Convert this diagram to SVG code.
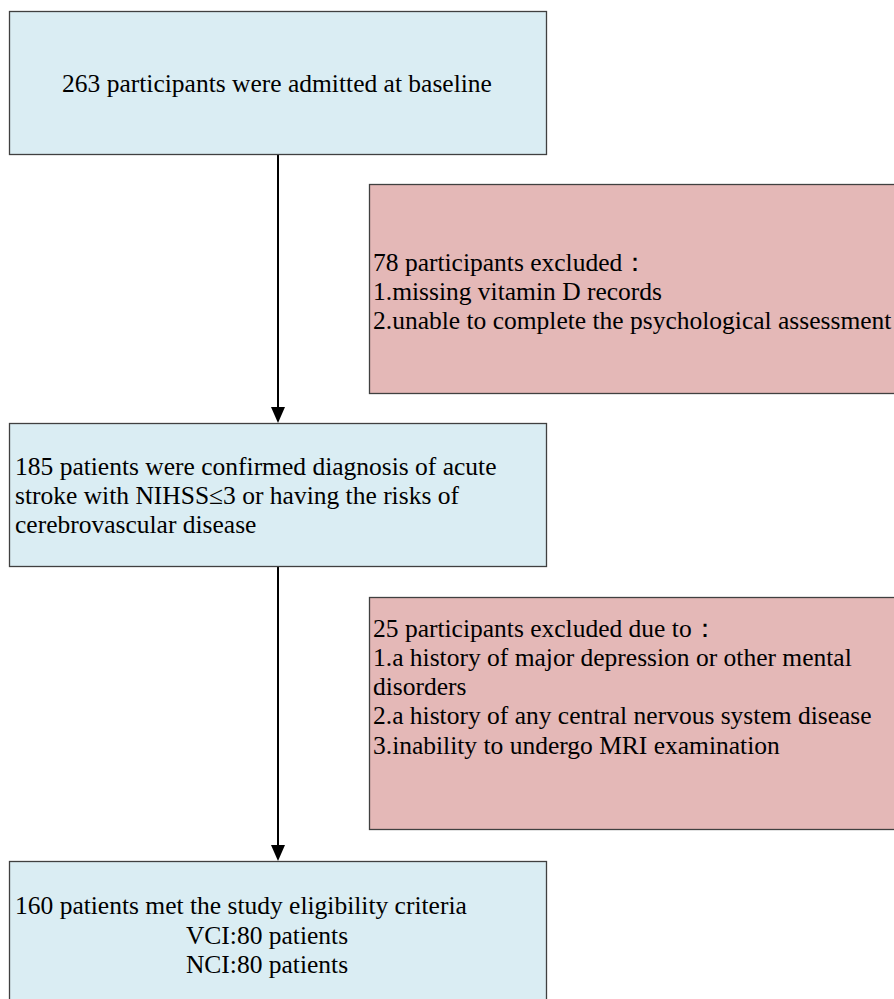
<svg xmlns="http://www.w3.org/2000/svg" width="894" height="999" viewBox="0 0 894 999">
<defs>
<style>
.blue{fill:#daedf3;stroke:#404040;stroke-width:1.3}
.pink{fill:#e4b8b7;stroke:#404040;stroke-width:1.3}
.conn{stroke:#000;stroke-width:2;fill:none}
</style>
</defs>
<rect width="894" height="999" fill="#fff"/>
<g id="connectors">
<line class="conn" x1="278" y1="155" x2="278" y2="407"/>
<path d="M271,407 L285,407 L278,423 Z" fill="#000"/>
<line class="conn" x1="278" y1="567" x2="278" y2="845"/>
<path d="M271,845 L285,845 L278,861 Z" fill="#000"/>
</g>
<g font-family="Liberation Serif, Times New Roman, serif" font-size="25.5" fill="#000">
<g id="n1">
<rect class="blue" x="9.5" y="11.5" width="537" height="143"/>
<text x="277" y="92" text-anchor="middle">263 participants were admitted at baseline</text>
</g>
<g id="n2">
<rect class="pink" x="369.5" y="184.5" width="530" height="209"/>
<text x="373" y="271">78 participants excluded：</text>
<text x="373" y="300">1.missing vitamin D records</text>
<text x="373" y="329">2.unable to complete the psychological assessment</text>
</g>
<g id="n3">
<rect class="blue" x="9.5" y="423.5" width="537" height="143"/>
<text x="15" y="474.5">185 patients were confirmed diagnosis of acute</text>
<text x="15" y="504">stroke with NIHSS≤3 or having the risks of</text>
<text x="15" y="533">cerebrovascular disease</text>
</g>
<g id="n4">
<rect class="pink" x="369.5" y="597.5" width="530" height="232"/>
<text x="373" y="637">25 participants excluded due to：</text>
<text x="373" y="666">1.a history of major depression or other mental</text>
<text x="373" y="695">disorders</text>
<text x="373" y="724">2.a history of any central nervous system disease</text>
<text x="373" y="754">3.inability to undergo MRI examination</text>
</g>
<g id="n5">
<rect class="blue" x="9.5" y="861.5" width="537" height="150"/>
<text x="15" y="914">160 patients met the study eligibility criteria</text>
<text x="267" y="944" text-anchor="middle">VCI:80 patients</text>
<text x="267" y="973" text-anchor="middle">NCI:80 patients</text>
</g>
</g>
</svg>
